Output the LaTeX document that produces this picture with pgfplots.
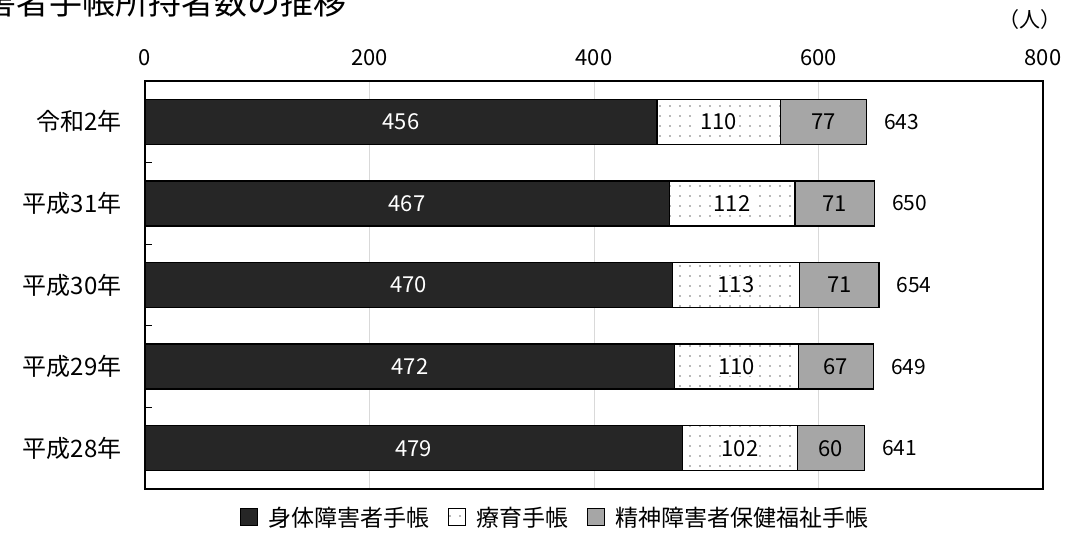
\documentclass[border=0pt]{standalone}
\usepackage{fontspec}
\setmainfont{Noto Sans CJK JP}
\usepackage{pgfplots}
\pgfplotsset{compat=1.18}
\usetikzlibrary{patterns.meta}
\definecolor{bardark}{HTML}{262626}
\definecolor{bargray}{HTML}{A6A6A6}
\begin{document}
\begin{tikzpicture}
\useasboundingbox (-145pt,-57pt) rectangle (920pt,489pt);
\clip (-145pt,-57pt) rectangle (920pt,489pt);
\node[anchor=base east, font=\fontsize{33}{38}\selectfont] at (205pt,474pt) {障害者手帳所持者数の推移};
\node[anchor=center, font=\fontsize{21}{24}\selectfont] at (885pt,469pt) {（人）};
\begin{axis}[
  at={(0pt,0pt)}, anchor=south west,
  scale only axis, width=898pt, height=408pt,
  xbar stacked, bar width=45pt,
  xmin=0, xmax=800, ymin=-0.5, ymax=4.5,
  xtick={0,200,400,600,800},
  xticklabel pos=top,
  x tick label style={font=\fontsize{22}{26}\selectfont, yshift=12pt},
  /pgf/number format/assume math mode=true,
  ytick={0,1,2,3,4},
  yticklabels={平成28年,平成29年,平成30年,平成31年,令和2年},
  y tick label style={font=\fontsize{24}{28}\selectfont, xshift=-20pt},
  ytick pos=left,
  major tick length=0pt,
  extra y ticks={0.5,1.5,2.5,3.5},
  extra y tick labels={},
  extra y tick style={major tick length=7pt, tick style={black, line width=1pt}},
  xmajorgrids, grid style={black!15, line width=1pt},
  axis line style={black, line width=1.5pt},
  point meta=explicit,
  legend columns=3,
  legend style={at={(0.457,-0.069)}, anchor=center, draw=none, fill=none,
    font=\fontsize{23}{27}\selectfont,
    /tikz/every odd column/.append style={column sep=9pt},
    /tikz/every even column/.append style={column sep=16pt}},
  legend image code/.code={\draw[#1, line width=0.8pt] (0pt,-8pt) rectangle (17pt,9pt);},
]
\addplot[fill=bardark, draw=black, line width=1.3pt,
  nodes near coords,
  every node near coord/.append style={anchor=center, text=white, font=\fontsize{22}{26}\selectfont}]
  coordinates {(479,0) [479] (472,1) [472] (470,2) [470] (467,3) [467] (456,4) [456]};
\addlegendentry{身体障害者手帳}
\addplot[fill=white, draw=black, line width=1.3pt,
  postaction={pattern={Dots[distance=10pt, radius=0.8pt]}, pattern color=black!55},
  nodes near coords,
  every node near coord/.append style={anchor=center, text=black, font=\fontsize{22}{26}\selectfont, fill=white, inner sep=1pt}]
  coordinates {(102,0) [102] (110,1) [110] (113,2) [113] (112,3) [112] (110,4) [110]};
\addlegendentry{療育手帳}
\addplot[fill=bargray, draw=black, line width=1.3pt,
  nodes near coords,
  every node near coord/.append style={anchor=center, text=black, font=\fontsize{22}{26}\selectfont}]
  coordinates {(60,0) [60] (67,1) [67] (71,2) [71] (71,3) [71] (77,4) [77]};
\addlegendentry{精神障害者保健福祉手帳}
\addplot[draw=none, fill=none,
  nodes near coords,
  every node near coord/.append style={anchor=west, xshift=14pt, text=black, font=\fontsize{21}{25}\selectfont}]
  coordinates {(0.01,0) [641] (0.01,1) [649] (0.01,2) [654] (0.01,3) [650] (0.01,4) [643]};
\end{axis}
\end{tikzpicture}
\end{document}
